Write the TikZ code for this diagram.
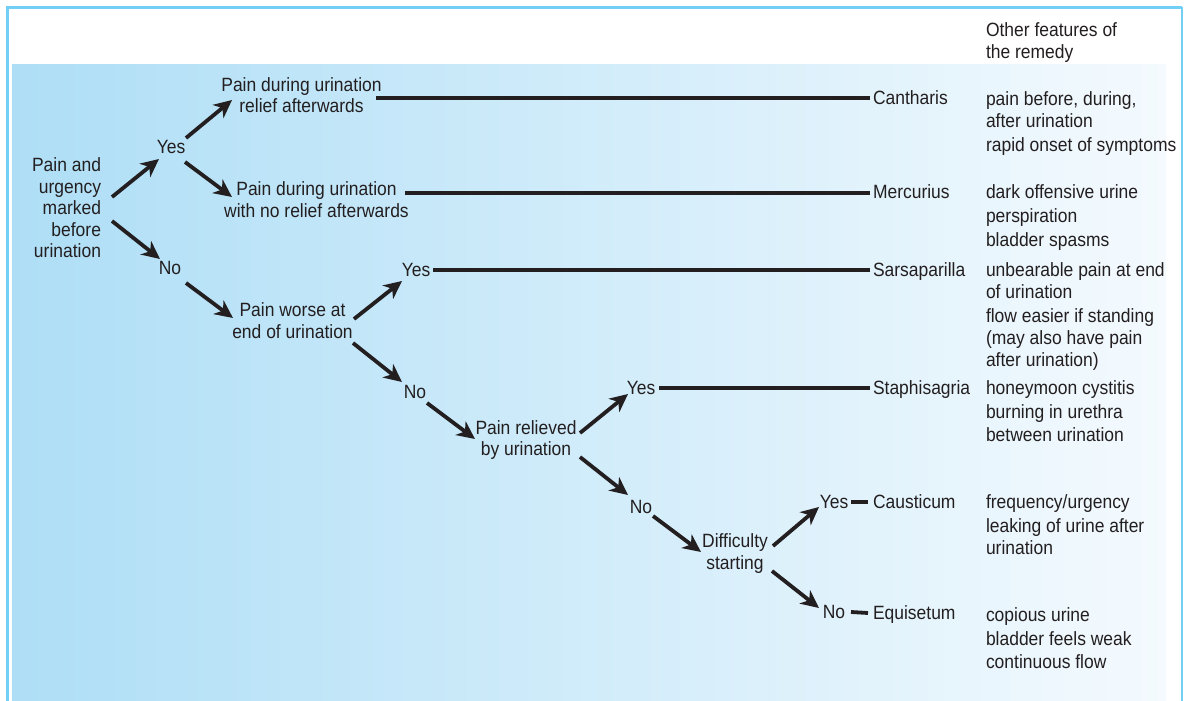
\documentclass[tikz,border=0pt]{standalone}
\usepackage{fontspec}
\setmainfont[FakeStretch=0.91]{Liberation Sans}
\usetikzlibrary{arrows.meta}
\definecolor{frameblue}{HTML}{72CFF5}
\definecolor{gradleft}{HTML}{AEDEF6}
\definecolor{gradright}{HTML}{F4FAFE}
\definecolor{ink}{HTML}{231F20}
\tikzset{
  every node/.style={inner sep=0pt, outer sep=0pt, text=ink, font=\fontsize{19.2}{21.5}\selectfont},
  oneline/.style={text height=13.7pt, text depth=0pt},
  decide/.style={align=center},
  remedy/.style={oneline, anchor=west},
  feat/.style={align=left, anchor=north west},
  arr/.style={draw=ink, line width=3.8pt, -{Stealth[length=18pt,width=17pt,inset=5.5pt]}},
  link/.style={draw=ink, line width=3.8pt},
}
\begin{document}
\begin{tikzpicture}[x=1pt,y=-1pt]
\useasboundingbox (0,0) rectangle (1184,701);
\fill[white] (0,0) rectangle (1184,701);
\shade[left color=gradleft, right color=gradright] (12,65) rectangle (1166,701);
\draw[frameblue, line width=3pt] (7.5,701) -- (7.5,7.5) -- (1182,7.5);
\draw[frameblue, line width=2pt] (1182,7.5) -- (1182,701);

% header
\node[feat] (hdr) at (986,23) {Other features of\\the remedy};

% decision nodes
\node[align=right, anchor=east] (q1) at (101,208) {Pain and\\urgency\\marked\\before\\urination};
\node[oneline] (y1) at (171,147) {Yes};
\node[oneline] (n1) at (170,268) {No};
\node[decide] (d1) at (301.5,95) {Pain during urination\\relief afterwards};
\node[decide] (d2) at (316.5,199.5) {Pain during urination\\with no relief afterwards};
\node[decide] (q2) at (292.5,320.5) {Pain worse at\\end of urination};
\node[oneline] (y2) at (416,270) {Yes};
\node[oneline] (n2) at (415,392) {No};
\node[decide] (q3) at (526,440) {Pain relieved\\by urination};
\node[oneline] (y3) at (641,388) {Yes};
\node[oneline] (n3) at (641,507) {No};
\node[decide] (q4) at (735,553.5) {Difficulty\\starting};
\node[oneline] (y4) at (834,502) {Yes};
\node[oneline] (n4) at (834,612) {No};

% remedies
\node[remedy] (r1) at (873,98) {Cantharis};
\node[remedy] (r2) at (873,192) {Mercurius};
\node[remedy] (r3) at (873,270) {Sarsaparilla};
\node[remedy] (r4) at (873,388) {Staphisagria};
\node[remedy] (r5) at (873,502) {Causticum};
\node[remedy] (r6) at (873,613) {Equisetum};

% features
\node[feat] (f1) at (986,92) {pain before, during,\\after urination\\[2.5pt]rapid onset of symptoms};
\node[feat] (f2) at (986,185) {dark offensive urine\\[2.5pt]perspiration\\[2.5pt]bladder spasms};
\node[feat] (f3) at (986,263) {unbearable pain at end\\of urination\\[2.5pt]flow easier if standing\\[1pt](may also have pain\\after urination)};
\node[feat] (f4) at (986,381) {honeymoon cystitis\\[2.5pt]burning in urethra\\[1.5pt]between urination};
\node[feat] (f5) at (986,495) {frequency/urgency\\[2.5pt]leaking of urine after\\urination};
\node[feat] (f6) at (986,607.5) {copious urine\\[2.5pt]bladder feels weak\\[1.5pt]continuous flow};

% arrows
\draw[arr] ([shift={(11,-11)}]q1.east) -- ([shift={(-12,12)}]y1.center);
\draw[arr] ([shift={(15,-9)}]y1.center) -- ([shift={(-69.5,5)}]d1.center);
\draw[arr] ([shift={(14,15)}]y1.center) -- ([shift={(-84.5,-2.5)}]d2.center);
\draw[arr] ([shift={(11,13)}]q1.east) -- ([shift={(-10,-9)}]n1.center);
\draw[arr] ([shift={(16,15)}]n1.center) -- ([shift={(-59.5,-2.5)}]q2.center);
\draw[arr] ([shift={(61.5,-1.5)}]q2.center) -- ([shift={(-14,11)}]y2.center);
\draw[arr] ([shift={(60.5,22.5)}]q2.center) -- ([shift={(-13,-10)}]n2.center);
\draw[arr] ([shift={(12,11)}]n2.center) -- ([shift={(-51,-1)}]q3.center);
\draw[arr] ([shift={(54,-7)}]q3.center) -- ([shift={(-13,6)}]y3.center);
\draw[arr] ([shift={(54,17)}]q3.center) -- ([shift={(-13,-12)}]n3.center);
\draw[arr] ([shift={(12,9)}]n3.center) -- ([shift={(-34,-1.5)}]q4.center);
\draw[arr] ([shift={(38,-7.5)}]q4.center) -- ([shift={(-15,5)}]y4.center);
\draw[arr] ([shift={(37,17.5)}]q4.center) -- ([shift={(-15,-4)}]n4.center);

% links to remedies
\draw[link] ([shift={(74.5,3)}]d1.center) -- ([shift={(-3,0)}]r1.west);
\draw[link] ([shift={(88.5,-6.5)}]d2.center) -- ([shift={(-3,1)}]r2.west);
\draw[link] ([shift={(17,0)}]y2.center) -- ([shift={(-3,0)}]r3.west);
\draw[link] ([shift={(18,0)}]y3.center) -- ([shift={(-3,0)}]r4.west);
\draw[link] ([shift={(17,0)}]y4.center) -- ([shift={(-5,0)}]r5.west);
\draw[link] ([shift={(17,0)}]n4.center) -- ([shift={(-5,0)}]r6.west);
\end{tikzpicture}
\end{document}
